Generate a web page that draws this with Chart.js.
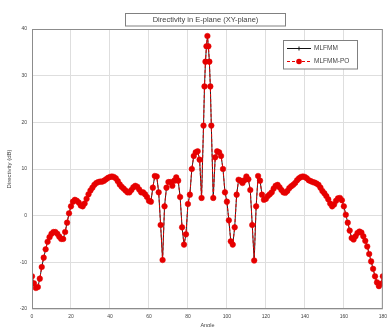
<!DOCTYPE html>
<html>
<head>
<meta charset="utf-8">
<script src="https://cdn.jsdelivr.net/npm/chart.js@4.4.1/dist/chart.umd.min.js"></script>
<style>
  html, body { margin: 0; padding: 0; background: #fff; }
  #wrap { width: 392px; height: 327px; }
</style>
</head>
<body>
<div id="wrap"><canvas id="chart" width="392" height="327"></canvas></div>
<script>
// Angles (deg) - 1 degree steps, with half-degree points around the main lobe
const angles = [
  0, 1, 2, 3, 4, 5, 6, 7, 8, 9, 10, 11, 12, 13, 14, 15, 16, 17, 18, 19,
  20, 21, 22, 23, 24, 25, 26, 27, 28, 29, 30, 31, 32, 33, 34, 35, 36, 37, 38, 39,
  40, 41, 42, 43, 44, 45, 46, 47, 48, 49, 50, 51, 52, 53, 54, 55, 56, 57, 58, 59,
  60, 61, 62, 63, 64, 65, 66, 67, 68, 69, 70, 71, 72, 73, 74, 75, 76, 77, 78, 79,
  80, 81, 82, 83, 84, 85, 86, 87, 88, 88.5, 89, 89.5, 90, 90.5, 91, 91.5, 92, 93, 94, 95,
  96, 97, 98, 99, 100, 101, 102, 103, 104, 105, 106, 107, 108, 109, 110, 111, 112, 113, 114, 115,
  116, 117, 118, 119, 120, 121, 122, 123, 124, 125, 126, 127, 128, 129, 130, 131, 132, 133, 134, 135,
  136, 137, 138, 139, 140, 141, 142, 143, 144, 145, 146, 147, 148, 149, 150, 151, 152, 153, 154, 155,
  156, 157, 158, 159, 160, 161, 162, 163, 164, 165, 166, 167, 168, 169, 170, 171, 172, 173, 174, 175,
  176, 177, 178, 179, 180
];

// Directivity (dB), MLFMM
const mlfmm = [
  -13.0, -14.5, -15.5, -15.3, -13.5, -11.0, -9.0, -7.2, -5.6, -4.6, -3.9, -3.5, -3.5, -3.9, -4.5, -5.0, -5.0, -3.5, -1.5, 0.5,
  2.0, 3.0, 3.4, 3.2, 2.8, 2.2, 2.0, 2.6, 3.6, 4.6, 5.4, 6.0, 6.6, 7.0, 7.2, 7.3, 7.3, 7.5, 7.8, 8.1,
  8.3, 8.4, 8.3, 8.0, 7.4, 6.7, 6.2, 5.8, 5.4, 5.0, 5.0, 5.5, 6.1, 6.4, 6.2, 5.6, 5.0, 5.0, 4.6, 4.0,
  3.2, 3.0, 6.0, 8.5, 8.4, 5.0, -2.0, -9.5, 2.0, 6.0, 7.2, 7.2, 6.4, 7.5, 8.2, 7.5, 4.0, -2.5, -6.2, -4.0,
  2.5, 4.5, 10.0, 12.8, 13.6, 13.8, 12.0, 3.8, 19.3, 27.7, 33.0, 36.3, 38.5, 36.3, 33.0, 27.7, 19.3, 3.8, 12.5, 13.8,
  13.6, 12.8, 10.0, 5.0, 3.0, -1.0, -5.5, -6.2, -2.5, 4.5, 7.7, 7.5, 7.0, 7.6, 8.4, 7.8, 5.5, -2.0, -9.6, 2.0,
  8.5, 7.5, 4.5, 3.4, 3.6, 4.2, 4.6, 5.0, 5.8, 6.4, 6.6, 6.1, 5.5, 5.0, 4.9, 5.3, 5.9, 6.3, 6.6, 7.0,
  7.6, 8.0, 8.3, 8.4, 8.3, 8.0, 7.6, 7.4, 7.2, 7.1, 6.9, 6.6, 6.0, 5.3, 4.8, 4.2, 3.5, 2.6, 2.0, 2.4,
  3.2, 3.7, 3.8, 3.3, 2.0, 0.2, -1.5, -3.2, -4.8, -5.1, -4.4, -3.7, -3.4, -3.6, -4.4, -5.4, -6.6, -8.2, -9.8, -11.4,
  -13.0, -14.3, -15.1, -14.6, -13.0
];

// MLFMM-PO lies on top of MLFMM at this resolution
const mlfmmPo = mlfmm.slice();

const xTicks = [0, 20, 40, 60, 80, 100, 120, 140, 160, 180];
const yTicks = [-20, -10, 0, 10, 20, 30, 40];

const titleText = 'Directivity in E-plane (XY-plane)';
const seriesNames = ['MLFMM', 'MLFMM-PO'];

const RED = '#e60000';

function toPoints(xs, ys) {
  return xs.map((x, i) => ({ x: x, y: ys[i] }));
}

// boxed title, axes frame and legend drawn inside the plot like the original figure
const boxesPlugin = {
  id: 'boxes',
  afterDraw(chart) {
    const ctx = chart.ctx;
    const a = chart.chartArea;
    ctx.save();

    // axes frame
    ctx.strokeStyle = '#8c8c8c';
    ctx.lineWidth = 1;
    ctx.strokeRect(a.left + 0.5, a.top + 0.5, a.right - a.left - 1, a.bottom - a.top - 1);

    // title box
    ctx.font = '7.5px "Liberation Sans", Arial, sans-serif';
    ctx.fillStyle = '#fff';
    ctx.fillRect(125, 13, 161, 13);
    ctx.strokeStyle = '#808080';
    ctx.strokeRect(125.5, 13.5, 160, 12.5);
    ctx.fillStyle = '#444';
    ctx.textAlign = 'center';
    ctx.textBaseline = 'middle';
    ctx.fillText(titleText, 205.5, 20);

    // legend box
    ctx.fillStyle = '#fff';
    ctx.fillRect(283, 40, 75, 29);
    ctx.strokeStyle = '#808080';
    ctx.strokeRect(283.5, 40.5, 74, 28.5);

    // MLFMM sample
    ctx.strokeStyle = '#111';
    ctx.lineWidth = 1;
    ctx.beginPath();
    ctx.moveTo(287, 48.5);
    ctx.lineTo(311, 48.5);
    ctx.stroke();
    ctx.beginPath();
    ctx.moveTo(297, 48.5); ctx.lineTo(301, 48.5);
    ctx.moveTo(299, 46.5); ctx.lineTo(299, 50.5);
    ctx.stroke();

    // MLFMM-PO sample
    ctx.strokeStyle = RED;
    ctx.setLineDash([3, 2]);
    ctx.beginPath();
    ctx.moveTo(287, 61.5);
    ctx.lineTo(311, 61.5);
    ctx.stroke();
    ctx.setLineDash([]);
    ctx.fillStyle = RED;
    ctx.beginPath();
    ctx.arc(299, 61.5, 2.8, 0, Math.PI * 2);
    ctx.fill();

    ctx.fillStyle = '#444';
    ctx.textAlign = 'left';
    ctx.font = '6.5px "Liberation Sans", Arial, sans-serif';
    ctx.fillText(seriesNames[0], 314, 48.5);
    ctx.fillText(seriesNames[1], 314, 61.5);

    ctx.restore();
  }
};

const ctx = document.getElementById('chart').getContext('2d');
const chart = new Chart(ctx, {
  type: 'line',
  data: {
    datasets: [
      {
        label: seriesNames[0],
        data: toPoints(angles, mlfmm),
        borderColor: '#222',
        borderWidth: 1,
        pointStyle: 'cross',
        pointRadius: 1.5,
        pointBorderColor: '#222',
        pointBorderWidth: 1,
        order: 1
      },
      {
        label: seriesNames[1],
        data: toPoints(angles, mlfmmPo),
        borderColor: RED,
        borderWidth: 1,
        borderDash: [3, 2],
        pointStyle: 'circle',
        pointRadius: 2.8,
        pointBackgroundColor: RED,
        pointBorderColor: RED,
        pointBorderWidth: 0.5,
        order: 0
      }
    ]
  },
  options: {
    responsive: false,
    animation: false,
    devicePixelRatio: 1,
    layout: {
      padding: { left: 0, right: 6, top: 29, bottom: 0 }
    },
    plugins: {
      legend: { display: false },
      tooltip: { enabled: false }
    },
    scales: {
      x: {
        type: 'linear',
        min: 0,
        max: 180,
        afterBuildTicks: (scale) => { scale.ticks = xTicks.map(v => ({ value: v })); },
        afterFit: (scale) => { scale.height = 18; },
        ticks: {
          color: '#444',
          font: { size: 5, family: '"Liberation Sans", Arial, sans-serif' },
          padding: 5,
          maxRotation: 0
        },
        grid: { color: '#dedede', drawTicks: false },
        border: { display: false },
        title: {
          display: true,
          text: 'Angle',
          color: '#444',
          font: { size: 5.5, family: '"Liberation Sans", Arial, sans-serif' },
          padding: { top: 0, bottom: -1.5 }
        }
      },
      y: {
        min: -20,
        max: 40,
        afterBuildTicks: (scale) => { scale.ticks = yTicks.map(v => ({ value: v })); },
        afterFit: (scale) => { scale.width = 32; },
        ticks: {
          color: '#444',
          font: { size: 5, family: '"Liberation Sans", Arial, sans-serif' },
          padding: 5
        },
        grid: { color: '#dedede', drawTicks: false },
        border: { display: false },
        title: {
          display: true,
          text: 'Directivity (dB)',
          color: '#444',
          font: { size: 6, family: '"Liberation Sans", Arial, sans-serif' },
          padding: { top: 6, bottom: 0 }
        }
      }
    }
  },
  plugins: [boxesPlugin]
});
</script>
</body>
</html>
